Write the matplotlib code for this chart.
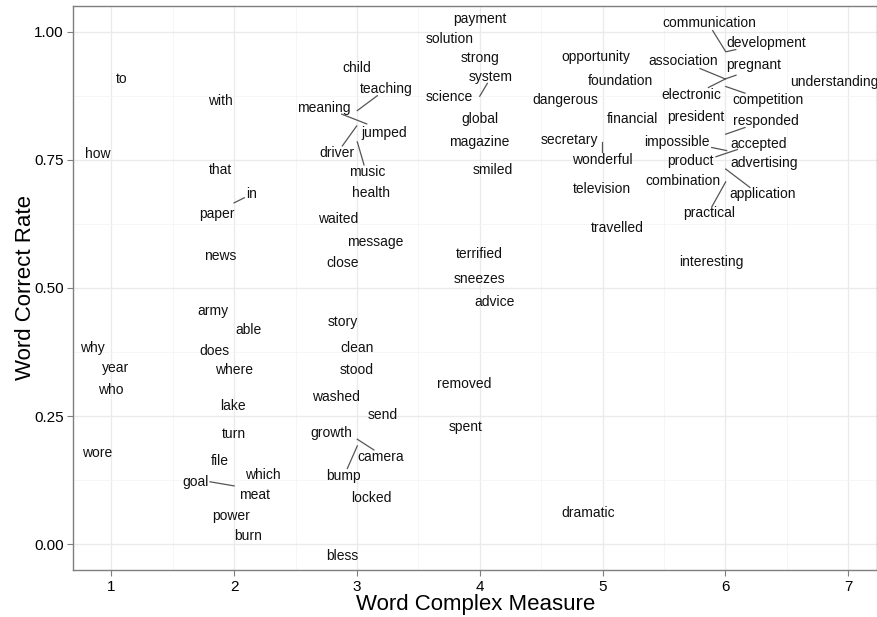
import matplotlib
matplotlib.use("Agg")
import matplotlib.pyplot as plt
from matplotlib.ticker import MultipleLocator

plt.rcParams['font.family'] = ['Liberation Sans', 'DejaVu Sans']

# label positions (complex measure, correct rate)
words = ["to", "with", "how", "that", "in", "paper", "news",
         "army", "able", "why", "does", "year", "where", "who", "lake", "turn",
         "wore", "file", "which", "goal", "meat", "power", "burn",
         "child", "teaching", "meaning", "jumped", "driver", "music", "health",
         "waited", "message", "close", "story", "clean", "stood", "washed",
         "send", "growth", "camera", "bump", "locked", "bless",
         "payment", "solution", "strong", "system", "science", "global",
         "magazine", "smiled", "terrified", "sneezes", "advice", "removed",
         "spent", "dramatic",
         "opportunity", "foundation", "dangerous", "financial", "secretary",
         "wonderful", "television", "travelled",
         "communication", "development", "association", "pregnant",
         "understanding", "electronic", "competition", "president", "responded",
         "impossible", "accepted", "product", "advertising", "combination",
         "application", "practical", "interesting"]
label_x = [1.088, 1.886, 0.886, 1.891, 2.143, 1.858, 1.886,
           1.826, 2.116, 0.845, 1.836, 1.038, 1.999, 0.995, 1.994, 1.999,
           0.886, 1.885, 2.230, 1.682, 2.170, 1.975, 2.116,
           2.995, 3.237, 2.732, 3.224, 2.835, 3.085, 3.112,
           2.844, 3.153, 2.881, 2.881, 2.998, 2.998, 2.830,
           3.207, 2.795, 3.196, 2.889, 3.120, 2.881,
           3.997, 3.752, 4.002, 4.092, 3.756, 4.002,
           3.994, 4.108, 4.000, 3.997, 4.117, 3.870,
           3.886, 4.880,
           4.947, 5.143, 4.695, 5.243, 4.730,
           5.000, 4.993, 5.120,
           5.867, 6.332, 5.653, 6.228,
           6.885, 5.726, 6.350, 5.759, 6.332,
           5.604, 6.272, 5.713, 6.315, 5.658,
           6.301, 5.870, 5.889]
label_y = [0.908, 0.865, 0.761, 0.730, 0.683, 0.645, 0.563,
           0.455, 0.419, 0.383, 0.378, 0.344, 0.341, 0.302, 0.270, 0.215,
           0.179, 0.162, 0.135, 0.122, 0.096, 0.056, 0.017,
           0.930, 0.889, 0.852, 0.803, 0.764, 0.727, 0.685,
           0.635, 0.590, 0.549, 0.434, 0.382, 0.341, 0.288,
           0.252, 0.218, 0.171, 0.133, 0.090, -0.022,
           1.025, 0.986, 0.948, 0.911, 0.872, 0.830,
           0.785, 0.731, 0.566, 0.517, 0.473, 0.312,
           0.229, 0.062,
           0.951, 0.904, 0.867, 0.830, 0.789,
           0.749, 0.694, 0.617,
           1.016, 0.978, 0.943, 0.935,
           0.902, 0.876, 0.866, 0.834, 0.825,
           0.784, 0.781, 0.748, 0.744, 0.709,
           0.683, 0.646, 0.551]

# repel segments: data point -> label
seg_x0 = [2.000, 3.003, 2.876, 2.998, 3.003, 4.000, 3.003, 3.003, 2.000,
          6.003, 6.011, 5.997, 6.003, 6.003, 6.003, 6.003, 6.011, 5.924,
          6.003, 6.003, 4.998]
seg_y0 = [0.666, 0.846, 0.839, 0.816, 0.785, 0.874, 0.205, 0.192, 0.114,
          0.961, 0.961, 0.908, 0.908, 0.908, 0.893, 0.800, 0.768, 0.756,
          0.732, 0.707, 0.785]
seg_x1 = [2.083, 3.166, 3.080, 2.881, 3.058, 4.062, 3.139, 2.922, 1.804,
          5.897, 6.085, 5.794, 5.862, 6.087, 6.160, 6.160, 5.889, 6.098,
          6.201, 5.889, 4.998]
seg_y1 = [0.676, 0.875, 0.820, 0.777, 0.740, 0.899, 0.184, 0.148, 0.122,
          1.002, 0.965, 0.928, 0.891, 0.915, 0.880, 0.813, 0.774, 0.770,
          0.696, 0.658, 0.766]

fig = plt.figure(figsize=(8.77, 6.17), dpi=100)
ax = fig.add_axes([0.0838, 0.0762, 0.9162, 0.9141])

for x0, y0, x1, y1 in zip(seg_x0, seg_y0, seg_x1, seg_y1):
    ax.plot([x0, x1], [y0, y1], color="#555555", lw=0.9, zorder=2)

for w, x, y in zip(words, label_x, label_y):
    ax.text(x, y, w, ha="center", va="center", fontsize=10, color="#111111", zorder=3)

ax.set_xlim(0.692, 7.235)
ax.set_ylim(-0.05, 1.05)
ax.xaxis.set_major_locator(MultipleLocator(1))
ax.xaxis.set_minor_locator(MultipleLocator(0.5))
ax.yaxis.set_major_locator(MultipleLocator(0.25))
ax.yaxis.set_minor_locator(MultipleLocator(0.125))
ax.set_yticks([0, 0.25, 0.5, 0.75, 1.0])
ax.set_yticklabels(["0.00", "0.25", "0.50", "0.75", "1.00"])

ax.grid(which="major", color="#EBEBEB", lw=1.0, zorder=0)
ax.grid(which="minor", color="#F5F5F5", lw=0.6, zorder=0)
ax.set_axisbelow(True)
for s in ax.spines.values():
    s.set_color("#7F7F7F")
    s.set_linewidth(1.0)
ax.tick_params(which="major", length=4, color="#7F7F7F", labelsize=11, labelcolor="black", pad=3)
ax.tick_params(which="minor", length=0)

ax.set_xlabel("Word Complex Measure", fontsize=16, labelpad=0.5)
ax.set_ylabel("Word Correct Rate", fontsize=16, labelpad=-1)

fig.savefig("out.png", dpi=100)
